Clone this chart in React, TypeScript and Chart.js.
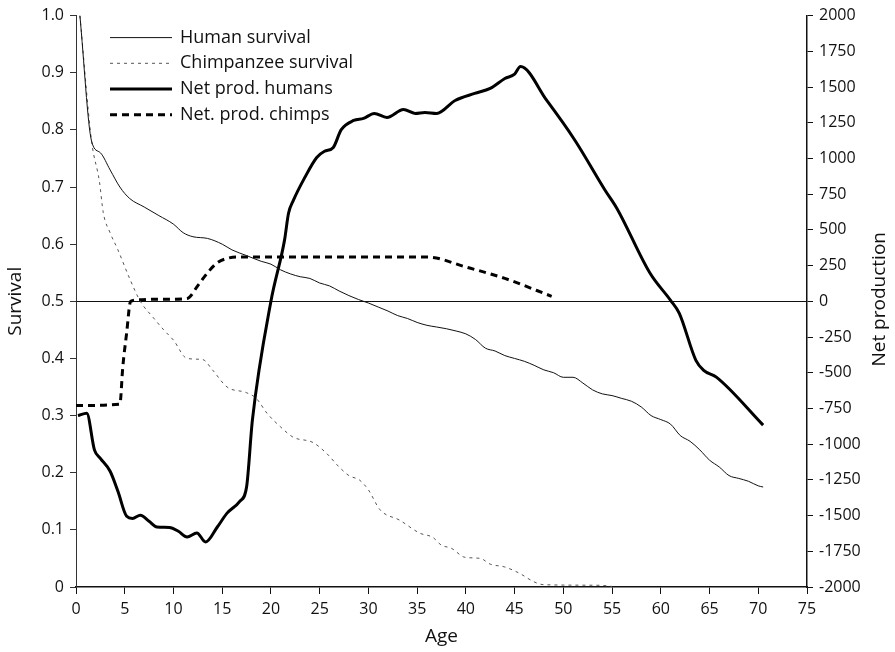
import React, { useEffect, useRef } from "react";
import { Chart, registerables } from "chart.js";

Chart.register(...registerables);

// ---- Data (age, value) ----
const humanSurvivalAges = [0.4, 1.6, 2.5, 3.5, 4.5, 5.5, 7, 8.5, 10, 11, 12, 13.5, 15, 16, 17.5, 19, 20, 21, 22, 23, 24, 25, 26, 27, 28, 29, 30, 31, 32, 33, 34, 35, 36, 37, 38, 39, 40, 41, 42, 43, 44, 45, 46, 47, 48, 49, 50, 51, 52, 53, 54, 55, 56, 57, 58, 59, 60, 61, 62, 63, 64, 65, 66, 67, 68, 69, 70, 70.5];
const humanSurvival = [1.0, 0.78, 0.76, 0.73, 0.7, 0.68, 0.665, 0.65, 0.635, 0.62, 0.613, 0.61, 0.6, 0.59, 0.58, 0.57, 0.565, 0.555, 0.548, 0.543, 0.54, 0.532, 0.527, 0.518, 0.51, 0.503, 0.497, 0.49, 0.483, 0.475, 0.47, 0.463, 0.458, 0.455, 0.452, 0.448, 0.443, 0.433, 0.418, 0.413, 0.405, 0.4, 0.395, 0.388, 0.38, 0.375, 0.367, 0.367, 0.357, 0.345, 0.338, 0.335, 0.33, 0.325, 0.315, 0.3, 0.293, 0.285, 0.265, 0.255, 0.24, 0.222, 0.21, 0.195, 0.19, 0.185, 0.177, 0.175];

const chimpSurvivalAges = [0.4, 1.6, 2.4, 2.8, 3.5, 4.3, 5.5, 6.6, 7.9, 9, 10, 11.4, 13, 14, 15.5, 17.5, 18.5, 19.6, 21, 22.3, 24.3, 25.7, 27, 28, 29.1, 30, 31.2, 33.2, 35.3, 36.6, 37.5, 38.5, 39.9, 41.5, 42.5, 44, 45.5, 47, 48, 53.7, 55];
const chimpSurvival = [1.0, 0.78, 0.71, 0.655, 0.62, 0.59, 0.54, 0.5, 0.472, 0.45, 0.432, 0.4, 0.398, 0.38, 0.35, 0.34, 0.33, 0.304, 0.28, 0.262, 0.253, 0.234, 0.21, 0.195, 0.187, 0.17, 0.135, 0.117, 0.094, 0.087, 0.073, 0.068, 0.052, 0.05, 0.04, 0.035, 0.024, 0.009, 0.004, 0.003, 0.001];

const humanProdAges = [0.2, 1.1, 1.9, 2.5, 3.5, 4.3, 5.2, 5.8, 6.6, 7.5, 8.3, 9.6, 10.5, 11.4, 12.4, 13.3, 14.5, 15.5, 16.8, 17.5, 18.1, 20, 21.4, 21.8, 22.3, 23.5, 24.7, 25.5, 26.4, 27.2, 28.5, 29.5, 30.6, 31.9, 33.6, 34.8, 35.8, 37, 38.9, 40.9, 42.5, 44, 45, 45.6, 48.3, 51.2, 54.3, 55.5, 58.9, 61, 61.9, 63.6, 64.4, 65.7, 70.5];
const humanProd = [-800, -783, -1042, -1100, -1190, -1330, -1505, -1520, -1497, -1540, -1580, -1583, -1610, -1650, -1622, -1685, -1580, -1483, -1400, -1300, -830, 0, 430, 615, 706, 870, 1007, 1050, 1077, 1200, 1266, 1280, 1315, 1287, 1343, 1315, 1322, 1315, 1406, 1455, 1490, 1560, 1590, 1643, 1406, 1126, 776, 650, 196, 7, -84, -413, -483, -531, -867];

const chimpProdAges = [0, 4.5, 4.8, 5.2, 5.6, 6.5, 8, 10, 11.4, 12.5, 13.5, 14.5, 15.5, 16.5, 20, 25, 30, 36, 40, 44, 48.8];
const chimpProd = [-730, -720, -460, -220, 0, 10, 15, 15, 20, 110, 200, 270, 300, 310, 310, 310, 310, 310, 240, 160, 35];

const seriesLabels = ["Human survival", "Chimpanzee survival", "Net prod. humans", "Net. prod. chimps"];
const axisTitles = { x: "Age", left: "Survival", right: "Net production" };
const ageTicksMax = 75;
const survivalMax = 1;
const prodMin = -2000;
const prodMax = 2000;

const pts = (xs: number[], ys: number[]) => xs.map((x, i) => ({ x, y: ys[i] }));

const FONT = "'Open Sans', 'DejaVu Sans', sans-serif";

const legendPlugin = {
  id: "insideLegend",
  afterDatasetsDraw(chart: any) {
    const { ctx, chartArea } = chart;
    const x0 = chartArea.left + 34;
    const x1 = x0 + 62;
    const y0 = chartArea.top + 22;
    const step = 25.7;
    ctx.save();
    chart.data.datasets.forEach((ds: any, i: number) => {
      const y = y0 + i * step;
      ctx.beginPath();
      ctx.strokeStyle = ds.borderColor;
      ctx.lineWidth = ds.borderWidth;
      ctx.setLineDash(ds.borderDash || []);
      ctx.moveTo(x0, y);
      ctx.lineTo(x1, y);
      ctx.stroke();
      ctx.setLineDash([]);
      ctx.fillStyle = "#111";
      ctx.font = `18px ${FONT}`;
      ctx.textBaseline = "middle";
      ctx.textAlign = "left";
      ctx.fillText(ds.label, x1 + 8, y);
    });
    // right axis title, reading bottom-to-top
    ctx.translate(chart.width - 15, (chartArea.top + chartArea.bottom) / 2 - 2);
    ctx.rotate(-Math.PI / 2);
    ctx.textAlign = "center";
    ctx.textBaseline = "middle";
    ctx.font = `19px ${FONT}`;
    ctx.fillStyle = "#111";
    ctx.fillText(axisTitles.right, 0, 0);
    ctx.restore();
  },
};

export default function App() {
  const canvasRef = useRef<HTMLCanvasElement | null>(null);

  useEffect(() => {
    document.body.style.margin = "0";
    const canvas = canvasRef.current;
    if (!canvas) return;
    const chart = new Chart(canvas, {
      type: "line",
      data: {
        datasets: [
          {
            label: seriesLabels[0],
            data: pts(humanSurvivalAges, humanSurvival),
            borderColor: "#111",
            borderWidth: 1,
            pointRadius: 0,
            cubicInterpolationMode: "monotone",
            yAxisID: "y",
          },
          {
            label: seriesLabels[1],
            data: pts(chimpSurvivalAges, chimpSurvival),
            borderColor: "#555",
            borderWidth: 1,
            borderDash: [3, 4],
            pointRadius: 0,
            cubicInterpolationMode: "monotone",
            yAxisID: "y",
          },
          {
            label: seriesLabels[2],
            data: pts(humanProdAges, humanProd),
            borderColor: "#000",
            borderWidth: 3,
            pointRadius: 0,
            cubicInterpolationMode: "monotone",
            yAxisID: "y1",
          },
          {
            label: seriesLabels[3],
            data: pts(chimpProdAges, chimpProd),
            borderColor: "#000",
            borderWidth: 3,
            borderDash: [7, 5],
            pointRadius: 0,
            cubicInterpolationMode: "monotone",
            yAxisID: "y1",
          },
        ] as any,
      },
      options: {
        responsive: false,
        animation: false,
        layout: { padding: { top: 15, left: 0, right: 0, bottom: 0 } },
        plugins: {
          legend: { display: false },
          tooltip: { enabled: false },
        },
        scales: {
          x: {
            type: "linear",
            min: 0,
            max: ageTicksMax,
            position: "bottom",
            ticks: {
              stepSize: 5,
              color: "#111",
              font: { size: 16, family: FONT },
              padding: 6,
            },
            grid: { drawOnChartArea: false, tickLength: 7, color: "#111" },
            border: { color: "#111", width: 1.5 },
            title: {
              display: true,
              text: axisTitles.x,
              color: "#111",
              font: { size: 19, family: FONT },
              padding: { top: 4, bottom: 4 },
            },
            afterFit: (s: any) => {
              s.height = 65;
            },
          },
          y: {
            type: "linear",
            position: "left",
            min: 0,
            max: survivalMax,
            ticks: {
              stepSize: 0.1,
              color: "#111",
              font: { size: 16, family: FONT },
              padding: 6,
              callback: (v: any) => (Number(v) === 0 ? "0" : Number(v).toFixed(1)),
            },
            grid: { drawOnChartArea: false, tickLength: 6, color: "#333" },
            border: { color: "#333", width: 1, dash: [10, 3, 2, 3] },
            title: {
              display: true,
              text: axisTitles.left,
              color: "#111",
              font: { size: 19, family: FONT },
              padding: { top: 4, bottom: 4 },
            },
            afterFit: (s: any) => {
              s.width = 76;
            },
          },
          y1: {
            type: "linear",
            position: "right",
            min: prodMin,
            max: prodMax,
            ticks: {
              stepSize: 250,
              color: "#111",
              font: { size: 16, family: FONT },
              padding: 6,
              callback: (v: any) => String(Math.round(Number(v))),
            },
            grid: {
              drawOnChartArea: true,
              tickLength: 6,
              color: (c: any) => (c.tick && c.tick.value === 0 ? "#111" : "rgba(0,0,0,0)"),
              tickColor: "#111",
              lineWidth: 1,
            },
            border: { color: "#111", width: 1.5 },
            title: { display: false },
            afterFit: (s: any) => {
              s.width = 88;
            },
          },
        },
      } as any,
      plugins: [legendPlugin],
    });
    return () => chart.destroy();
  }, []);

  return (
    <div style={{ width: 895, height: 652, background: "#fff" }}>
      <canvas ref={canvasRef} width={895} height={652} />
    </div>
  );
}
